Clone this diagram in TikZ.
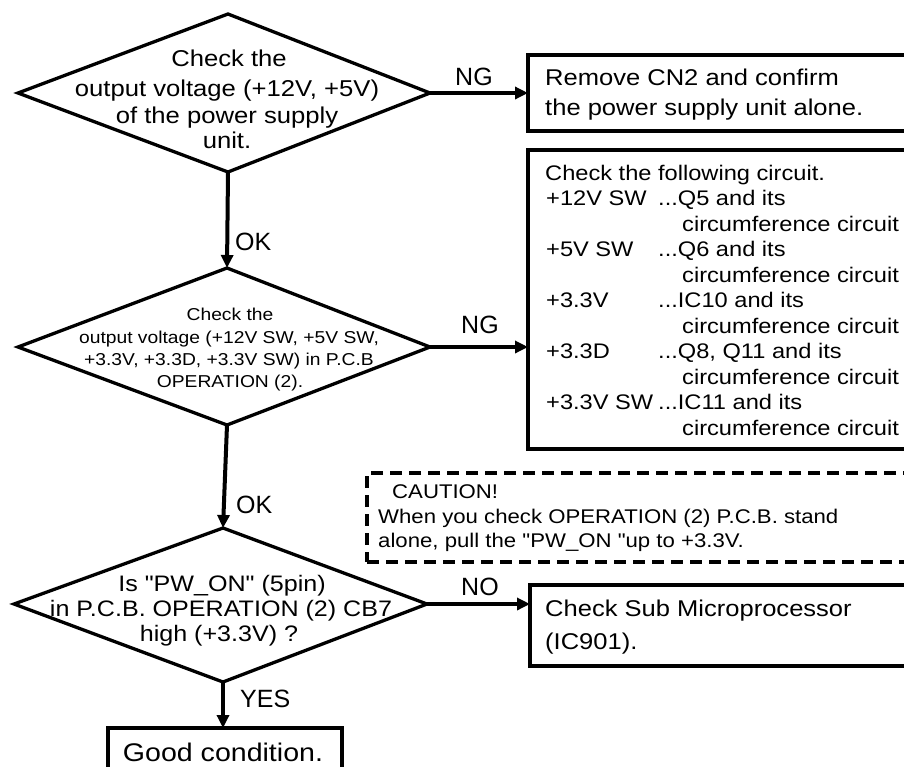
\documentclass[tikz,border=0pt]{standalone}
\usepackage{fontspec}
\setmainfont{Liberation Sans}
\newfontfamily\wfont[FakeStretch=1.12]{Liberation Sans}
\usetikzlibrary{arrows.meta}
\begin{document}
\begin{tikzpicture}[x=1pt,y=-1pt,
  dia/.style={draw, line width=3.3pt, line join=miter},
  bx/.style={draw, line width=4pt, inner sep=0pt, outer sep=0pt, anchor=north west},
  cbx/.style={draw, line width=3.5pt, dash pattern=on 12pt off 7pt, inner sep=0pt, outer sep=0pt, anchor=north west},
  arr/.style={line width=4pt, -{Triangle[length=13pt,width=12pt]}},
  lbl/.style={font=\fontsize{25}{30}\selectfont, inner sep=0pt, anchor=base west},
  ctxt/.style={inner sep=0pt, anchor=base},
  ltxt/.style={inner sep=0pt, anchor=base west},
  fa/.style={font=\wfont\fontsize{22.9}{27}\selectfont},
  fb/.style={font=\wfont\fontsize{17.2}{21}\selectfont},
  fc/.style={font=\wfont\fontsize{22.4}{27}\selectfont},
  fbox1/.style={font=\wfont\fontsize{22.8}{27}\selectfont},
  fbox2/.style={font=\wfont\fontsize{21.1}{25}\selectfont},
  fcau/.style={font=\wfont\fontsize{19.8}{24}\selectfont},
  fgood/.style={font=\wfont\fontsize{25.5}{30}\selectfont},
]
\useasboundingbox (0,0) rectangle (904,766);
\clip (0,0) rectangle (904,766);

% diamond 1
\coordinate (d1n) at (228,14);
\coordinate (d1w) at (18,93);
\coordinate (d1e) at (430,93);
\coordinate (d1s) at (228,172);
\draw[dia] (d1n) -- (d1e) -- (d1s) -- (d1w) -- cycle;
\node[ctxt,fa] (d1a) at (229,66) {Check the};
\node[ctxt,fa] (d1b) at (227,96.5) {output voltage (+12V, +5V)};
\node[ctxt,fa] (d1c) at (227,123) {of the power supply};
\node[ctxt,fa] (d1d) at (227,148.5) {unit.};

% diamond 2
\coordinate (d2n) at (227,268);
\coordinate (d2w) at (18,347);
\coordinate (d2e) at (430,347);
\coordinate (d2s) at (227,425);
\draw[dia] (d2n) -- (d2e) -- (d2s) -- (d2w) -- cycle;
\node[ctxt,fb] (d2a) at (230,320.5) {Check the};
\node[ctxt,fb] (d2b) at (229,343) {output voltage (+12V SW, +5V SW,};
\node[ctxt,fb] (d2c) at (229,365) {+3.3V, +3.3D, +3.3V SW) in P.C.B};
\node[ctxt,fb] (d2d) at (230,387) {OPERATION (2).};

% diamond 3
\coordinate (d3n) at (223,528);
\coordinate (d3w) at (14,604);
\coordinate (d3e) at (427,604);
\coordinate (d3s) at (223,682);
\draw[dia] (d3n) -- (d3e) -- (d3s) -- (d3w) -- cycle;
\node[ctxt,fc] (d3a) at (222,591) {Is "PW\_ON" (5pin)};
\node[ctxt,fc] (d3b) at (221,616) {in P.C.B. OPERATION (2) CB7};
\node[ctxt,fc] (d3c) at (219,641) {high (+3.3V) ?};

% boxes
\node[bx, minimum width=440pt, minimum height=76pt] (b1) at (528,55) {};
\node[ltxt,fbox1] (b1a) at (545,85) {Remove CN2 and confirm};
\node[ltxt,fbox1] (b1b) at (545,115) {the power supply unit alone.};

\node[bx, minimum width=440pt, minimum height=299pt] (b2) at (528,150) {};
\node[ltxt,fbox2] (b2a) at (545,180) {Check the following circuit.};
\node[ltxt,fbox2] (b2b) at (546,205.5) {+12V SW};
\node[ltxt,fbox2] (b2c) at (658,205.5) {...Q5 and its};
\node[ltxt,fbox2] (b2d) at (682,231) {circumference circuit};
\node[ltxt,fbox2] (b2e) at (546,256.5) {+5V SW};
\node[ltxt,fbox2] (b2f) at (658,256.5) {...Q6 and its};
\node[ltxt,fbox2] (b2g) at (682,282) {circumference circuit};
\node[ltxt,fbox2] (b2h) at (546,307.5) {+3.3V};
\node[ltxt,fbox2] (b2i) at (658,307.5) {...IC10 and its};
\node[ltxt,fbox2] (b2j) at (682,333) {circumference circuit};
\node[ltxt,fbox2] (b2k) at (546,358.5) {+3.3D};
\node[ltxt,fbox2] (b2l) at (658,358.5) {...Q8, Q11 and its};
\node[ltxt,fbox2] (b2m) at (682,384) {circumference circuit};
\node[ltxt,fbox2] (b2n) at (546,409.5) {+3.3V SW};
\node[ltxt,fbox2] (b2o) at (658,409.5) {...IC11 and its};
\node[ltxt,fbox2] (b2p) at (682,435) {circumference circuit};

\node[cbx, minimum width=600pt, minimum height=89pt] (cau) at (367,473) {};
\node[ltxt,fcau] (caua) at (392,498) {CAUTION!};
\node[ltxt,fcau] (caub) at (378,523) {When you check OPERATION (2) P.C.B. stand};
\node[ltxt,fcau] (cauc) at (378,547) {alone, pull the "PW\_ON "up to +3.3V.};

\node[bx, minimum width=440pt, minimum height=81pt] (b3) at (530,585) {};
\node[ltxt,fbox1] (b3a) at (545,616) {Check Sub Microprocessor};
\node[ltxt,fbox1] (b3b) at (545,649) {(IC901).};

\node[bx, minimum width=234pt, minimum height=70pt] (good) at (108,728) {};
\node[ctxt,fgood] (gooda) at (223,761.5) {Good condition.};

% connectors
\draw[arr] (d1e) -- (b1.west);
\draw[arr] (d1s) -- (d2n);
\draw[arr] (d2e) -- (d2e -| b2.west);
\draw[arr] (d2s) -- (d3n);
\draw[arr] (d3e) -- (d3e -| b3.west);
\draw[arr] (d3s) -- (d3s |- good.north);

% labels
\node[lbl] (ng1) at (455,85) {NG};
\node[lbl] (ok1) at (235,250) {OK};
\node[lbl] (ng2) at (461,333.5) {NG};
\node[lbl] (ok2) at (236,513) {OK};
\node[lbl] (no) at (461,595) {NO};
\node[lbl] (yes) at (240,707) {YES};
\end{tikzpicture}
\end{document}
